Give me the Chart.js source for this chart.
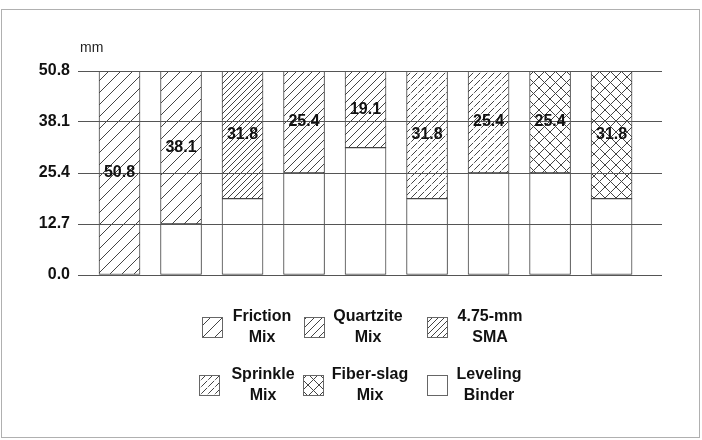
<!DOCTYPE html>
<html>
<head>
<meta charset="utf-8">
<script src="https://cdn.jsdelivr.net/npm/chart.js@4.4.0/dist/chart.umd.min.js"></script>
<style>
    html, body { margin: 0; padding: 0; background: #fff; }
    #wrap { position: relative; width: 702px; height: 440px; }
    #frame {
        position: absolute; left: 1px; top: 9px; width: 697px; height: 427px;
        border: 1px solid #b0b0b0;
    }
    #chart { position: absolute; left: 0; top: 0; }
</style>
</head>
<body>
<div id="wrap">
    <div id="frame"></div>
    <canvas id="chart" width="702" height="440"></canvas>
</div>
<script>
// Test sections, left to right (one bar each)
const sections = ['S1', 'S2', 'S3', 'S4', 'S5', 'S6', 'S7', 'S8', 'S9'];

// Surface layer thickness (mm), null where the mix is not used
const frictionMix  = [50.8, 38.1, null, null, null, null, null, null, null];
const sma475       = [null, null, 31.8, null, null, null, null, null, null];
const quartziteMix = [null, null, null, 25.4, 19.1, null, null, null, null];
const sprinkleMix  = [null, null, null, null, null, 31.8, 25.4, null, null];
const fiberSlagMix = [null, null, null, null, null, null, null, 25.4, 31.8];
// Leveling binder under the surface layer (mm)
const levelingBinder = [0, 12.7, 19.0, 25.4, 31.7, 19.0, 25.4, 25.4, 19.0];

const yTicks = [0, 12.7, 25.4, 38.1, 50.8];

const LINE = '#444';
const FONT = '"Liberation Sans", Arial, sans-serif';

// Hatch patterns
function makeHatch(size, kind) {
    const c = document.createElement('canvas');
    c.width = size;
    c.height = size;
    const g = c.getContext('2d');
    g.fillStyle = '#fff';
    g.fillRect(0, 0, size, size);
    g.strokeStyle = LINE;
    g.lineWidth = 1;
    const diag = (x0, y0, x1, y1) => {
        g.beginPath();
        g.moveTo(x0, y0);
        g.lineTo(x1, y1);
        g.stroke();
    };
    if (kind === 'dash') {
        // dashed "/" lines
        const seg = (a, b) => diag(size * a, size * (1 - a), size * b, size * (1 - b));
        seg(-0.05, 0.6);
        seg(0.75, 1.05);
    } else {
        diag(-1, size + 1, size + 1, -1);
        if (kind === 'cross') diag(-1, -1, size + 1, size + 1);
    }
    return g.createPattern(c, 'repeat');
}

const patterns = {
    friction: makeHatch(12, 'line'),
    sma: makeHatch(6, 'line'),
    quartzite: makeHatch(8, 'line'),
    sprinkle: makeHatch(7, 'dash'),
    fiber: makeHatch(11, 'cross')
};

function xy(values) {
    return values.map((v, i) => ({ x: i + 1, y: v }));
}

function barSet(label, values, fill, lines, showValue) {
    return {
        label: label,
        legendLines: lines,
        showValue: showValue,
        data: xy(values),
        backgroundColor: fill,
        borderColor: LINE,
        borderWidth: 1,
        borderSkipped: false,
        barThickness: 41
    };
}

const datasets = [
    barSet('Leveling Binder', levelingBinder, '#fff', ['Leveling', 'Binder'], false),
    barSet('Friction Mix', frictionMix, patterns.friction, ['Friction', 'Mix'], true),
    barSet('Quartzite Mix', quartziteMix, patterns.quartzite, ['Quartzite', 'Mix'], true),
    barSet('4.75-mm SMA', sma475, patterns.sma, ['4.75-mm', 'SMA'], true),
    barSet('Sprinkle Mix', sprinkleMix, patterns.sprinkle, ['Sprinkle', 'Mix'], true),
    barSet('Fiber-slag Mix', fiberSlagMix, patterns.fiber, ['Fiber-slag', 'Mix'], true)
];

// Legend grid: order and placement (3 columns x 2 rows)
const legendOrder = ['Friction Mix', 'Quartzite Mix', '4.75-mm SMA',
                     'Sprinkle Mix', 'Fiber-slag Mix', 'Leveling Binder'];

const extrasPlugin = {
    id: 'extras',
    afterDraw(chart) {
        const ctx = chart.ctx;
        ctx.save();
        // values inside the surface segments (on top of the grid lines)
        ctx.font = 'bold 16px ' + FONT;
        ctx.fillStyle = '#111';
        ctx.textAlign = 'center';
        ctx.textBaseline = 'middle';
        chart.data.datasets.forEach((ds, di) => {
            if (!ds.showValue) return;
            chart.getDatasetMeta(di).data.forEach((el, i) => {
                const v = ds.data[i].y;
                if (v == null) return;
                ctx.fillText(v.toFixed(1), el.x, (el.y + el.base) / 2);
            });
        });

        // unit label
        ctx.font = '14px ' + FONT;
        ctx.fillStyle = '#222';
        ctx.textAlign = 'left';
        ctx.fillText('mm', 80, 48);

        // legend
        const colBox = [[202, 304, 427], [199, 303, 427]];
        const colText = [[262, 368, 490], [263, 370, 489]];
        const rowY = [327, 385];
        legendOrder.forEach((name, k) => {
            const ds = chart.data.datasets.find(d => d.label === name);
            const r = Math.floor(k / 3), c = k % 3;
            const bx = colBox[r][c], by = rowY[r] - 10;
            ctx.fillStyle = ds.backgroundColor;
            ctx.fillRect(bx, by, 20, 20);
            ctx.strokeStyle = '#666';
            ctx.lineWidth = 1;
            ctx.strokeRect(bx + 0.5, by + 0.5, 20, 20);
            ctx.font = 'bold 16px ' + FONT;
            ctx.fillStyle = '#111';
            ctx.textAlign = 'center';
            ctx.fillText(ds.legendLines[0], colText[r][c], rowY[r] - 10);
            ctx.fillText(ds.legendLines[1], colText[r][c], rowY[r] + 11);
        });
        ctx.restore();
    }
};

new Chart(document.getElementById('chart'), {
    type: 'bar',
    data: { datasets: datasets },
    options: {
        responsive: false,
        animation: false,
        layout: { padding: { top: 71, left: 0, right: 40, bottom: 165 } },
        plugins: {
            legend: { display: false },
            tooltip: { enabled: false }
        },
        scales: {
            x: {
                type: 'linear',
                display: false,
                stacked: true,
                offset: false,
                min: 0.325,
                max: 9.82
            },
            y: {
                stacked: true,
                min: 0,
                max: 50.8,
                afterFit(scale) { scale.width = 78; },
                afterBuildTicks(scale) {
                    scale.ticks = yTicks.map(v => ({ value: v }));
                },
                border: { display: false },
                grid: { color: '#555', lineWidth: 1, drawTicks: false, z: 1 },
                ticks: {
                    padding: 8,
                    color: '#111',
                    font: { family: FONT, size: 16, weight: 'bold' },
                    callback: v => v.toFixed(1)
                }
            }
        }
    },
    plugins: [extrasPlugin]
});
</script>
</body>
</html>
